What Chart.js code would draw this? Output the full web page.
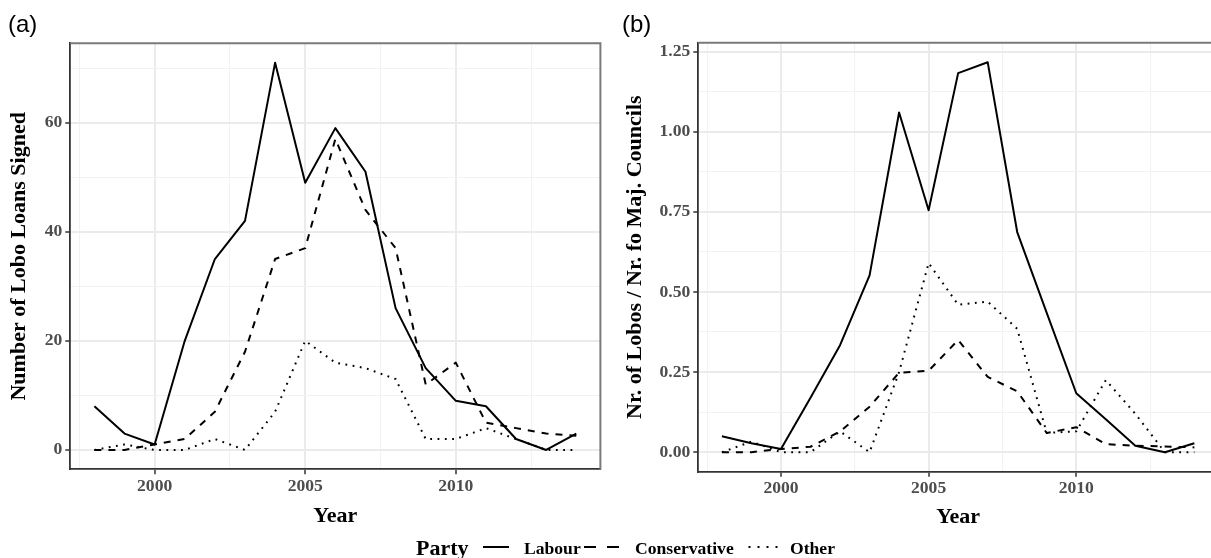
<!DOCTYPE html>
<html>
<head>
<meta charset="utf-8">
<script src="https://cdn.jsdelivr.net/npm/chart.js@4"></script>
<style>
html,body{margin:0;padding:0;background:#fff;}
body{width:1211px;height:558px;overflow:hidden;position:relative;}
canvas{position:absolute;top:0;}
#ca{left:0;}
#cb{left:610px;}
.tag{position:absolute;font-family:'Liberation Sans',Arial,sans-serif;font-size:24px;line-height:24px;color:#000;white-space:nowrap;}
.lg{position:absolute;font-family:'Liberation Serif','Times New Roman',serif;font-weight:bold;color:#000;white-space:nowrap;}
</style>
</head>
<body>
<canvas id="ca" width="610" height="558"></canvas>
<canvas id="cb" width="614" height="558"></canvas>
<div class="tag" style="left:8px;top:11.7px;">(a)</div>
<div class="tag" style="left:622px;top:11.7px;">(b)</div>
<div id="legend"></div>
<script>
// ---------------- data ----------------
const years = [1998,1999,2000,2001,2002,2003,2004,2005,2006,2007,2008,2009,2010,2011,2012,2013,2014];
const seriesNames = ['Labour','Conservative','Other'];

// panel (a): number of LOBO loans signed
const labourLoans       = [8,3,1,20,35,42,71,49,59,51,26,15,9,8,2,0,3];
const conservativeLoans = [0,0,1,2,7,18,35,37,57,44,37,12,16,5,4,3,2.6];
const otherLoans        = [0,1,0,0,2,0,7,20,16,15,13,2,2,4,2,0,0];

// panel (b): nr. of LOBOs / nr. of majority councils
const labourRatio       = [0.05,0.028,0.01,0.17,0.334,0.552,1.06,0.755,1.183,1.217,0.687,0.435,0.184,0.103,0.02,0,0.028];
const conservativeRatio = [0,0,0.01,0.017,0.065,0.142,0.248,0.254,0.35,0.235,0.19,0.06,0.078,0.025,0.02,0.018,0.015];
const otherRatio        = [0,0.033,0,0,0.065,0,0.25,0.59,0.46,0.47,0.385,0.06,0.065,0.225,0.12,0,0];

// ticks
const xMajorTicks = [2000,2005,2010];
const xMajorLabels = ['2000','2005','2010'];
const xMinorTicks = [1997.5,2002.5,2007.5,2012.5];
const yMajorTicksA = [0,20,40,60];
const yMajorLabelsA = ['0','20','40','60'];
const yMinorTicksA = [10,30,50,70];
const yMajorTicksB = [0,0.25,0.5,0.75,1,1.25];
const yMajorLabelsB = ['0.00','0.25','0.50','0.75','1.00','1.25'];
const yMinorTicksB = [0.125,0.375,0.625,0.875,1.125];

// ---------------- styling ----------------
const SERIF = "'Liberation Serif','Times New Roman',serif";
const dashes = [[], [7,7], [1.8,5.5]];
const tickFont = {family: SERIF, weight: 'bold', size: 17.6, lineHeight: 1};
const titleFont = {family: SERIF, weight: 'bold', size: 22, lineHeight: 1};

function expand(lo, hi) { const r = hi - lo; return {min: lo - 0.05*r, max: hi + 0.05*r}; }

const panelBorder = {
  id: 'panelBorder',
  afterDraw(chart) {
    const {ctx, chartArea: a} = chart;
    ctx.save();
    ctx.strokeStyle = '#7a7a7a';
    ctx.lineWidth = 2;
    ctx.beginPath();
    ctx.moveTo(a.left, a.top);
    ctx.lineTo(a.right, a.top);
    ctx.lineTo(a.right, a.bottom);
    ctx.stroke();
    ctx.restore();
  }
};

function axis(major, labels, minor, range, extra) {
  const isMinor = v => minor.indexOf(v) >= 0;
  return Object.assign({
    type: 'linear',
    min: range.min,
    max: range.max,
    afterBuildTicks: s => {
      s.ticks = major.concat(minor).sort((a,b)=>a-b).map(v => ({value: v}));
    },
    ticks: {
      autoSkip: false, maxRotation: 0, minRotation: 0,
      color: '#4D4D4D', font: tickFont,
      callback: v => { const i = major.indexOf(v); return i >= 0 ? labels[i] : ''; }
    },
    grid: {
      drawOnChartArea: true, drawTicks: true, tickLength: 5,
      color: c => (c.tick && isMinor(c.tick.value)) ? '#F2F2F2' : '#EBEBEB',
      lineWidth: c => (c.tick && isMinor(c.tick.value)) ? 1.1 : 2,
      tickColor: c => (c.tick && isMinor(c.tick.value)) ? 'rgba(0,0,0,0)' : '#333333',
      tickWidth: 1.5
    },
    border: {display: true, color: '#333333', width: 1.8}
  }, extra);
}

function makeChart(id, values, opt) {
  const allVals = values.flat();
  const xr = expand(years[0], years[years.length-1]);
  const yr = expand(Math.min(0, ...allVals), Math.max(...allVals));
  const datasets = values.map((vals, k) => ({
    label: seriesNames[k],
    data: years.map((x, i) => ({x: x, y: vals[i]})),
    borderColor: '#000',
    borderWidth: 2,
    borderDash: dashes[k],
    borderCapStyle: 'butt',
    borderJoinStyle: 'round',
    pointRadius: 0,
    tension: 0,
    fill: false
  }));
  return new Chart(document.getElementById(id), {
    type: 'line',
    data: {datasets: datasets},
    plugins: [panelBorder],
    options: {
      responsive: false,
      animation: false,
      devicePixelRatio: 1,
      layout: {padding: opt.padding},
      plugins: {legend: {display: false}, tooltip: {enabled: false}},
      scales: {
        x: axis(xMajorTicks, xMajorLabels, xMinorTicks, xr, {
          afterFit: s => { s.height = opt.xHeight; },
          title: {display: true, text: 'Year', color: '#000', font: titleFont, padding: {top: 0, bottom: opt.xTitlePad}}
        }),
        y: axis(opt.yMajor, opt.yLabels, opt.yMinor, yr, {
          afterFit: s => { s.width = opt.yWidth; },
          title: {display: true, text: opt.yTitle, color: '#000', font: titleFont, padding: {top: opt.yTitlePad, bottom: 0}}
        })
      }
    }
  });
}

// x tick padding tweak per panel
makeChart('ca', [labourLoans, conservativeLoans, otherLoans], {
  padding: {top: 43.3, right: 9.6, left: 0, bottom: 0},
  xHeight: 88.7, yWidth: 70.3, xTitlePad: 31.1, yTitlePad: 8,
  yMajor: yMajorTicksA, yLabels: yMajorLabelsA, yMinor: yMinorTicksA,
  yTitle: 'Number of Lobo Loans Signed'
});
makeChart('cb', [labourRatio, conservativeRatio, otherRatio], {
  padding: {top: 42.7, right: 6, left: 0, bottom: 0},
  xHeight: 86.3, yWidth: 88.3, xTitlePad: 30.1, yTitlePad: 14.6,
  yMajor: yMajorTicksB, yLabels: yMajorLabelsB, yMinor: yMinorTicksB,
  yTitle: 'Nr. of Lobos / Nr. fo Maj. Councils'
});

// ---------------- legend (HTML) ----------------
const legendTitle = 'Party';
const legendLayout = {
  titleLeft: 416, titleTop: 537.1,
  labelTop: 539.8,
  labelLeft: [524, 635, 790],
  keyFrom: [483, 584, 748.5], keyTo: [509, 619, 778],
  keyDash: ['', '12 11', '2 7'], keyY: 547
};
(function buildLegend() {
  const root = document.getElementById('legend');
  let html = '<div class="lg" style="left:' + legendLayout.titleLeft + 'px;top:' + legendLayout.titleTop +
             'px;font-size:22px;line-height:22px;">' + legendTitle + '</div>';
  let svg = '<svg style="position:absolute;left:0;top:0" width="1211" height="558">';
  seriesNames.forEach((name, k) => {
    html += '<div class="lg" style="left:' + legendLayout.labelLeft[k] + 'px;top:' + legendLayout.labelTop +
            'px;font-size:17.6px;line-height:17.6px;">' + name + '</div>';
    svg += '<line x1="' + legendLayout.keyFrom[k] + '" y1="' + legendLayout.keyY + '" x2="' + legendLayout.keyTo[k] +
           '" y2="' + legendLayout.keyY + '" stroke="#000" stroke-width="2"' +
           (legendLayout.keyDash[k] ? ' stroke-dasharray="' + legendLayout.keyDash[k] + '"' : '') + '/>';
  });
  svg += '</svg>';
  root.innerHTML = svg + html;
})();
</script>
</body>
</html>
